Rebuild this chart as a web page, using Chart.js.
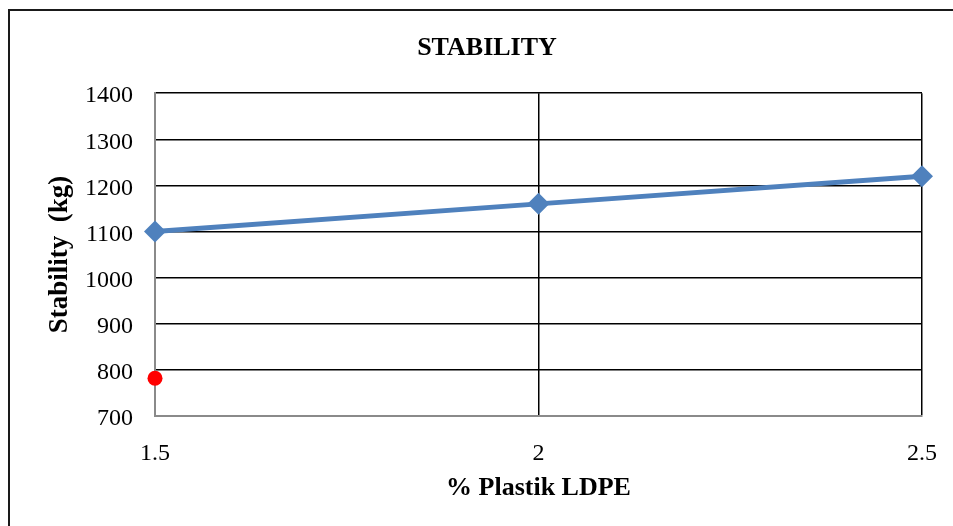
<!DOCTYPE html>
<html>
<head>
<meta charset="utf-8">
<script src="https://cdn.jsdelivr.net/npm/chart.js@4.4.1/dist/chart.umd.min.js"></script>
<style>
  html, body { margin: 0; padding: 0; background: #fff; overflow: hidden; width: 953px; height: 526px; }
  #frame { position: absolute; left: 8px; top: 9px; width: 1000px; height: 600px; border: 2px solid #1a1a1a; }
  #chart { position: absolute; left: 0; top: 0; }
</style>
</head>
<body>
<div id="frame"></div>
<canvas id="chart" width="953" height="526"></canvas>
<script>
// data
const plasticPct = [1.5, 2, 2.5];
const stabilityKg = [1100, 1160, 1220];
const extraPointX = [1.5];
const extraPointY = [782];
const xTickLabels = ['1.5', '2', '2.5'];
const yTickValues = [700, 800, 900, 1000, 1100, 1200, 1300, 1400];

const serif = "'Liberation Serif', 'Times New Roman', serif";

const ctx = document.getElementById('chart').getContext('2d');
const stabilityChart = new Chart(ctx, {
    type: 'line',
    data: {
        datasets: [{
            label: 'Stability',
            data: plasticPct.map((x, i) => ({ x: x, y: stabilityKg[i] })),
            borderColor: '#4F81BD',
            backgroundColor: '#4F81BD',
            borderWidth: 5,
            pointStyle: 'rectRot',
            pointRadius: 11,
            pointBorderWidth: 0,
            tension: 0,
            clip: false,
            order: 1
        }, {
            label: 'extra',
            data: extraPointX.map((x, i) => ({ x: x, y: extraPointY[i] })),
            showLine: false,
            borderColor: '#FF0000',
            backgroundColor: '#FF0000',
            pointStyle: 'circle',
            pointRadius: 7.5,
            pointBorderWidth: 0,
            clip: false,
            order: 0
        }]
    },
    options: {
        responsive: false,
        animation: false,
        devicePixelRatio: 1,
        // left padding shifts the centred title to the right like the original
        layout: { padding: { left: 21, right: 0, top: 0, bottom: 0 } },
        plugins: {
            legend: { display: false },
            tooltip: { enabled: false },
            title: {
                display: true,
                text: 'STABILITY',
                color: '#000',
                font: { family: serif, size: 26, weight: 'bold' },
                padding: { top: 33, bottom: 29 }
            }
        },
        scales: {
            x: {
                type: 'linear',
                min: plasticPct[0],
                max: plasticPct[plasticPct.length - 1],
                afterBuildTicks: (axis) => {
                    axis.ticks = plasticPct.map(v => ({ value: v }));
                },
                afterFit: (axis) => {
                    axis.height = 110;
                    axis.paddingLeft = 0;
                    axis.paddingRight = 0;
                },
                ticks: {
                    color: '#000',
                    font: { family: serif, size: 24 },
                    padding: 23,
                    maxRotation: 0,
                    callback: (value, index) => xTickLabels[index]
                },
                grid: {
                    color: (c) => (c.tick && c.tick.value === plasticPct[0]) ? 'rgba(0,0,0,0)' : '#000',
                    lineWidth: 1.5,
                    drawTicks: false
                },
                border: { display: true, color: '#8a8a8a', width: 2 },
                title: {
                    display: true,
                    text: '% Plastik LDPE',
                    color: '#000',
                    font: { family: serif, size: 26, weight: 'bold' },
                    padding: { top: 0, bottom: 22 }
                }
            },
            y: {
                type: 'linear',
                min: yTickValues[0],
                max: yTickValues[yTickValues.length - 1],
                afterBuildTicks: (axis) => {
                    axis.ticks = yTickValues.map(v => ({ value: v }));
                },
                afterFit: (axis) => { axis.width = 134; },
                ticks: {
                    color: '#000',
                    font: { family: serif, size: 24 },
                    padding: 22,
                    labelOffset: 3,
                    callback: (value) => String(value)
                },
                grid: {
                    color: (c) => (c.tick && c.tick.value === yTickValues[0]) ? 'rgba(0,0,0,0)' : '#000',
                    lineWidth: 1.5,
                    drawTicks: false
                },
                border: { display: true, color: '#8a8a8a', width: 2 },
                title: {
                    display: true,
                    text: 'Stability  (kg)',
                    color: '#000',
                    font: { family: serif, size: 27, weight: 'bold' },
                    padding: { top: 23, bottom: 0 }
                }
            },
            // empty right-hand box, keeps the plot's right edge at the original spot
            yRight: {
                position: 'right',
                display: true,
                ticks: { display: false },
                grid: { display: false, drawTicks: false },
                border: { display: false },
                afterFit: (axis) => { axis.width = 31; }
            }
        }
    }
});
</script>
</body>
</html>
